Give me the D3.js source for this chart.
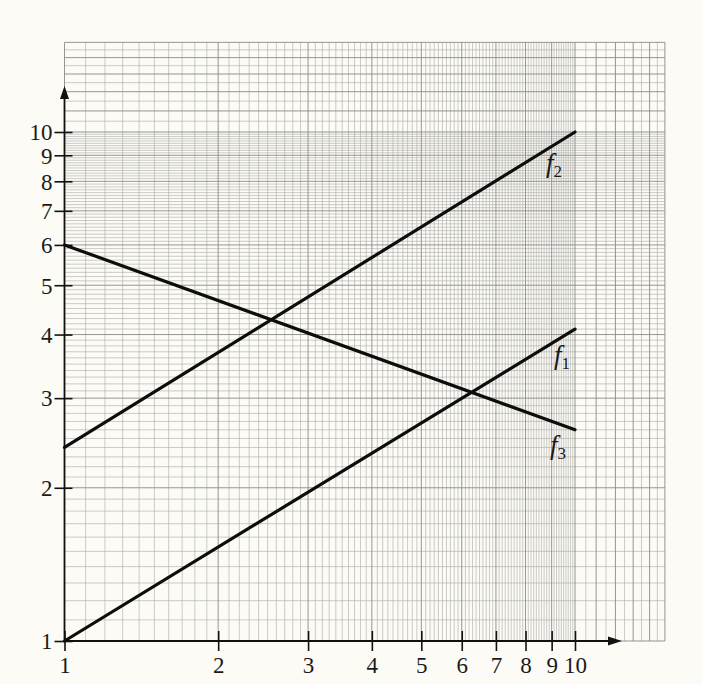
<!DOCTYPE html>
<html>
<head>
<meta charset="utf-8">
<script src="https://cdn.jsdelivr.net/npm/d3@7/dist/d3.min.js"></script>
<style>
  html, body { margin: 0; padding: 0; background: #fcfbf6; }
  svg { display: block; }
  text { font-family: "Liberation Serif", "DejaVu Serif", serif; fill: #1a1a1a; }
</style>
</head>
<body>
<svg id="chart" width="702" height="684"></svg>
<script>
// Tick labels on both logarithmic axes
const xTicks = [1, 2, 3, 4, 5, 6, 7, 8, 9, 10];
const yTicks = [1, 2, 3, 4, 5, 6, 7, 8, 9, 10];

// Each function is a straight line on log-log paper: value at x = 1 and at x = 10
const xEnds = [1, 10];
const f1 = [1, 4.1];
const f2 = [2.4, 10];
const f3 = [6, 2.6];
const seriesNames = ["1", "2", "3"];
const seriesValues = [f1, f2, f3];

// Extent of the printed grid paper (continues past the axes' last tick)
const paperMax = 15;

const svg = d3.select("#chart");

const x = d3.scaleLog().domain([1, 10]).range([64.5, 575]);
const y = d3.scaleLog().domain([1, 10]).range([641, 132]);

// ---- grid paper ----
function gridValues() {
  const minor = [], major = [];
  for (let d = 1; d < 10; d++) {
    major.push(d);
    for (let k = 1; k < 10; k++) minor.push(+(d + k / 10).toFixed(2));
  }
  for (let d = 10; d <= paperMax; d++) {
    major.push(d);
    if (d < paperMax) minor.push(d + 0.5);
  }
  return { minor, major };
}
const gv = gridValues();
const grid = svg.append("g").attr("class", "grid");
const x0 = x(1), x1 = x(paperMax), y0 = y(1), y1 = y(paperMax);

grid.selectAll("line.vmin").data(gv.minor).join("line")
  .attr("class", "vmin")
  .attr("x1", d => x(d)).attr("x2", d => x(d))
  .attr("y1", y0).attr("y2", y1)
  .attr("stroke", "#a9a9a6").attr("stroke-width", 0.6);
grid.selectAll("line.hmin").data(gv.minor).join("line")
  .attr("class", "hmin")
  .attr("y1", d => y(d)).attr("y2", d => y(d))
  .attr("x1", x0).attr("x2", x1)
  .attr("stroke", "#a9a9a6").attr("stroke-width", 0.6);
grid.selectAll("line.vmaj").data(gv.major).join("line")
  .attr("class", "vmaj")
  .attr("x1", d => x(d)).attr("x2", d => x(d))
  .attr("y1", y0).attr("y2", y1)
  .attr("stroke", "#8a8a87").attr("stroke-width", 0.9);
grid.selectAll("line.hmaj").data(gv.major).join("line")
  .attr("class", "hmaj")
  .attr("y1", d => y(d)).attr("y2", d => y(d))
  .attr("x1", x0).attr("x2", x1)
  .attr("stroke", "#8a8a87").attr("stroke-width", 0.9);

// ---- axes ----
const fontSize = 23;

const xAxis = svg.append("g")
  .attr("transform", `translate(0,${y(1)})`)
  .call(d3.axisBottom(x).tickValues(xTicks).tickFormat(d3.format("d")).tickSizeOuter(0));
const yAxis = svg.append("g")
  .attr("transform", `translate(${x(1)},0)`)
  .call(d3.axisLeft(y).tickValues(yTicks).tickFormat(d3.format("d")).tickSizeOuter(0));

[xAxis, yAxis].forEach(g => {
  g.select(".domain").remove();
  g.selectAll("text").attr("font-size", fontSize)
    .style("font-family", '"Liberation Serif", serif').attr("fill", "#1a1a1a");
  g.selectAll(".tick line").attr("stroke", "#111").attr("stroke-width", 1.6);
});
xAxis.selectAll(".tick line").attr("y1", -10).attr("y2", 10);
xAxis.selectAll(".tick text").attr("y", 32).attr("dy", 0);
yAxis.selectAll(".tick line").attr("x1", -10).attr("x2", 8);
yAxis.selectAll(".tick text").attr("x", -12).attr("dy", "0.34em");

// axis lines with arrowheads
const axisColor = "#111";
svg.append("line")
  .attr("x1", x(1)).attr("x2", 612).attr("y1", y(1)).attr("y2", y(1))
  .attr("stroke", axisColor).attr("stroke-width", 1.8);
svg.append("path")
  .attr("d", `M622,${y(1)} L608,${y(1) - 4.5} L608,${y(1) + 4.5} Z`)
  .attr("fill", axisColor);
svg.append("line")
  .attr("x1", x(1)).attr("x2", x(1)).attr("y1", y(1)).attr("y2", 96)
  .attr("stroke", axisColor).attr("stroke-width", 1.8);
svg.append("path")
  .attr("d", `M${x(1)},86 L${x(1) - 4.5},99 L${x(1) + 4.5},99 Z`)
  .attr("fill", axisColor);

// ---- function lines ----
const line = d3.line().x(d => x(d[0])).y(d => y(d[1]));
svg.append("g").selectAll("path").data(seriesValues).join("path")
  .attr("d", v => line(xEnds.map((xv, i) => [xv, v[i]])))
  .attr("fill", "none").attr("stroke", "#0d0d0d")
  .attr("stroke-width", 3.2).attr("stroke-linecap", "round");

// ---- curve labels f1, f2, f3 placed beside each line's right end ----
const labelOffsets = [[-21, 35], [-29, 40], [-25, 24]];
const labels = svg.append("g");
seriesValues.forEach((v, i) => {
  const t = labels.append("text")
    .attr("x", x(10) + labelOffsets[i][0])
    .attr("y", y(v[1]) + labelOffsets[i][1])
    .attr("font-size", 27);
  t.append("tspan").attr("font-style", "italic").text("f");
  t.append("tspan").attr("font-size", 17).attr("dx", 0).attr("dy", 5).text(seriesNames[i]);
});
</script>
</body>
</html>
